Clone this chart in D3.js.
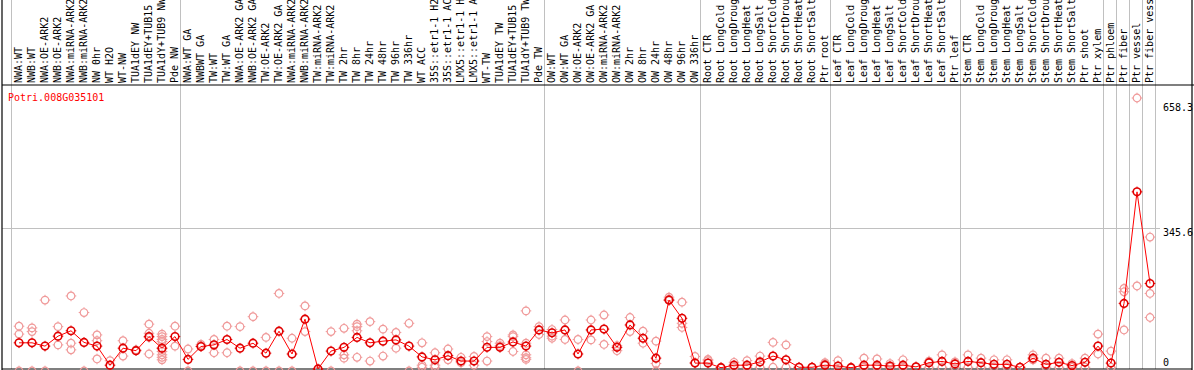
<!DOCTYPE html>
<html lang="en">
<head>
    <meta charset="UTF-8">
    <title>Potri.008G035101</title>
    <style>
        body { margin: 0; background: #fff; }
        text { font-family: "DejaVu Sans Mono", monospace; font-size: 10px; }
        .sep { stroke: #c0c0c0; stroke-width: 1; }
        .frame { stroke: #000; stroke-width: 1.2; }
        .rep { fill: none; stroke: #f09a9a; stroke-width: 1.2; }
        .mean { fill: none; stroke: #e00000; stroke-width: 1.6; }
        .meanline { fill: none; stroke: #ff0000; stroke-width: 1; }
    </style>
</head>
<body>
<div id="chart"></div>
<script src="https://cdn.jsdelivr.net/npm/d3@7"></script>
<script>
    var geneId = "Potri.008G035101";

    var samples = ["NWA:WT", "NWB:WT", "NWA:OE-ARK2", "NWB:OE-ARK2", "NWA:miRNA-ARK2", "NWB:miRNA-ARK2",
        "NW 0hr", "WT H2O", "WT-NW", "TUA1dEY NW", "TUA1dEY+TUB15 NW", "TUA1dY+TUB9 NW", "Pde NW",
        "NWA:WT GA", "NWBWT GA", "TW:WT", "TW:WT GA", "NWA:OE-ARK2 GA", "NWB:OE-ARK2 GA", "TW:OE-ARK2",
        "TW:OE-ARK2 GA", "NWA:miRNA-ARK2", "NWB:miRNA-ARK2", "TW:miRNA-ARK2", "TW:miRNA-ARK2 GA",
        "TW 2hr", "TW 8hr", "TW 24hr", "TW 48hr", "TW 96hr", "TW 336hr", "WT ACC",
        "35S::etr1-1 H2O", "35S::etr1-1 ACC", "LMX5::etr1-1 H2O", "LMX5::etr1-1 ACC", "WT-TW",
        "TUA1dEY TW", "TUA1dEY+TUB15 TW", "TUA1dY+TUB9 TW", "Pde TW",
        "OW:WT", "OW:WT GA", "OW:OE-ARK2", "OW:OE-ARK2 GA", "OW:miRNA-ARK2", "OW:miRNA-ARK2 GA",
        "OW 2hr", "OW 8hr", "OW 24hr", "OW 48hr", "OW 96hr", "OW 336hr",
        "Root CTR", "Root LongCold", "Root LongDrought", "Root LongHeat", "Root LongSalt",
        "Root ShortCold", "Root ShortDrought", "Root ShortHeat", "Root ShortSalt", "Ptr root",
        "Leaf CTR", "Leaf LongCold", "Leaf LongDrought", "Leaf LongHeat", "Leaf LongSalt",
        "Leaf ShortCold", "Leaf ShortDrought", "Leaf ShortHeat", "Leaf ShortSalt", "Ptr leaf",
        "Stem CTR", "Stem LongCold", "Stem LongDrought", "Stem LongHeat", "Stem LongSalt",
        "Stem ShortCold", "Stem ShortDrought", "Stem ShortHeat", "Stem ShortSalt", "Ptr shoot", "Ptr xylem",
        "Ptr phloem", "Ptr fiber", "Ptr vessel", "Ptr fiber vessel"];

    // number of samples in each block between the grey separators
    var groupSizes = [13, 28, 12, 10, 10, 11, 1, 1, 1, 1];

    var means = [68, 68, 60, 84, 97, 69, 60, 14, 55, 49,
        83, 55, 83, 28, 59, 63, 76, 55, 67, 43,
        96, 41, 125, 5, 48, 57, 81, 68, 72, 75,
        60, 34, 27, 37, 24, 24, 57, 57, 70, 60,
        99, 92, 99, 41, 99, 101, 57, 111, 79, 31,
        171, 127, 19, 19, 8, 14, 14, 22, 36, 27,
        9, 9, 14, 12, 8, 14, 14, 12, 14, 10,
        20, 23, 17, 23, 20, 16, 16, 9, 31, 16,
        21, 13, 21, 60, 19, 163, 432, 211];

    var replicates = [[108, 89, 0], [104, 95, 0], [171, 0], [107, 63], [181, 67, 51], [141, 0], [87, 73, 29],
        [25], [73, 36], [51], [113, 91, 81, 41], [89, 83, 76, 71, 55, 47, 39, 33, 27], [108, 60],
        [53, 0], [64, 60], [76, 44], [108, 44], [107, 0], [131, 0], [81, 0], [187, 0], [79, 0],
        [157, 95], [0], [95, 0], [103, 39, 31], [113, 107, 97, 33], [119, 24], [101, 36], [93, 55],
        [115, 0], [68, 14, 9], [44, 14, 9], [53, 27], [33, 20], [35, 14], [83, 71, 24], [67, 61],
        [87, 83, 47], [145, 67, 39, 32, 28], [107, 88],
        [100, 84, 79], [123, 76], [76, 0], [123, 75], [135, 64], [61, 49], [129, 95], [96, 67],
        [72, 18, 0], [178, 173, 170], [166, 115, 105], [35, 20],
        [28, 25], [9], [21, 9], [25, 9], [36, 9], [69, 9], [63, 9], [9], [9], [20, 17],
        [25, 0], [9], [31, 9], [29, 9], [18, 9], [27, 9], [9], [24, 9], [39, 9], [22, 9],
        [39, 9], [31, 9], [27, 9], [27, 9], [9], [39, 27], [31, 9], [31, 9], [18, 9], [31, 9], [89, 41], [48, 9],
        [199, 191, 99], [658.3, 205], [187, 129, 323]];

    var yTicks = [0, 345.6, 658.3];

    var width = 1194, height = 370;
    var plotLeft = 11, plotRight = 1155, plotTop = 85, plotBottom = 369;

    var svg = d3.select("#chart").append("svg")
        .attr("width", width)
        .attr("height", height);

    // sample names repeat, so the band scale works on the column index
    var x = d3.scaleBand().domain(d3.range(samples.length)).range([plotLeft, plotRight]);
    var y = d3.scaleLinear().domain([0, d3.max(yTicks)]).range([371, 98]);

    function cx(i) { return x(i) + x.bandwidth() / 2 + 1.5; }

    // grey separators between sample blocks
    var bounds = [0];
    groupSizes.forEach(function (n) { bounds.push(bounds[bounds.length - 1] + n); });
    svg.selectAll(".sep-v")
        .data(bounds)
        .enter().append("line")
        .attr("class", "sep")
        .attr("x1", function (d) { return plotLeft + d * x.step() + 0.5; })
        .attr("x2", function (d) { return plotLeft + d * x.step() + 0.5; })
        .attr("y1", 0)
        .attr("y2", plotBottom);

    svg.selectAll(".sep-h")
        .data(yTicks.filter(function (d) { return d > 0 && d < d3.max(yTicks); }))
        .enter().append("line")
        .attr("class", "sep")
        .attr("x1", 2)
        .attr("x2", 1160)
        .attr("y1", function (d) { return Math.round(y(d)) + 0.5; })
        .attr("y2", function (d) { return Math.round(y(d)) + 0.5; });

    // frame
    svg.append("line").attr("class", "frame").attr("x1", 2).attr("x2", 2).attr("y1", 0).attr("y2", height);
    svg.append("line").attr("class", "frame").attr("x1", 1192).attr("x2", 1192).attr("y1", 0).attr("y2", height);
    svg.append("line").attr("class", "frame").attr("x1", 2).attr("x2", width).attr("y1", plotTop).attr("y2", plotTop);
    svg.append("line").attr("class", "frame").attr("x1", 2).attr("x2", 1192).attr("y1", plotBottom).attr("y2", plotBottom);

    // sample names, rotated
    svg.selectAll(".lab")
        .data(samples)
        .enter().append("text")
        .attr("class", "lab")
        .attr("transform", function (d, i) { return "translate(" + (x(i) + 10.5) + "," + (plotTop - 2) + ") rotate(-90)"; })
        .style("fill", "#000")
        .text(function (d) { return d; });

    svg.append("text")
        .attr("x", 8)
        .attr("y", 101)
        .style("fill", "#ff0000")
        .text(geneId);

    svg.selectAll(".ytick")
        .data(yTicks)
        .enter().append("text")
        .attr("x", 1163)
        .attr("y", function (d) { return Math.min(Math.max(y(d) + 8.5, 111), 366); })
        .style("fill", "#000")
        .text(function (d) { return d; });

    // marker: circle with four small ticks
    function marker(sel, cls) {
        sel.append("circle").attr("class", cls).attr("r", 3.8);
        [[0, -3.8, 0, -5.3], [0, 3.8, 0, 5.3], [-3.8, 0, -5.3, 0], [3.8, 0, 5.3, 0]].forEach(function (t) {
            sel.append("line").attr("class", cls)
                .attr("x1", t[0]).attr("y1", t[1]).attr("x2", t[2]).attr("y2", t[3])
                .style("stroke-width", 1);
        });
    }

    var repPoints = [];
    samples.forEach(function (s, i) {
        replicates[i].forEach(function (v) { repPoints.push({col: i, value: v}); });
    });

    svg.append("g").selectAll("g")
        .data(repPoints)
        .enter().append("g")
        .attr("transform", function (d) { return "translate(" + cx(d.col) + "," + y(d.value) + ")"; })
        .each(function () { marker(d3.select(this), "rep"); });

    var meanData = means.map(function (v, i) { return {col: i, value: v}; });

    svg.append("path")
        .datum(meanData)
        .attr("class", "meanline")
        .attr("d", d3.line()
            .x(function (d) { return cx(d.col); })
            .y(function (d) { return y(d.value); }));

    svg.append("g").selectAll("g")
        .data(meanData)
        .enter().append("g")
        .attr("transform", function (d) { return "translate(" + cx(d.col) + "," + y(d.value) + ")"; })
        .each(function () { marker(d3.select(this), "mean"); });
</script>
</body>
</html>
